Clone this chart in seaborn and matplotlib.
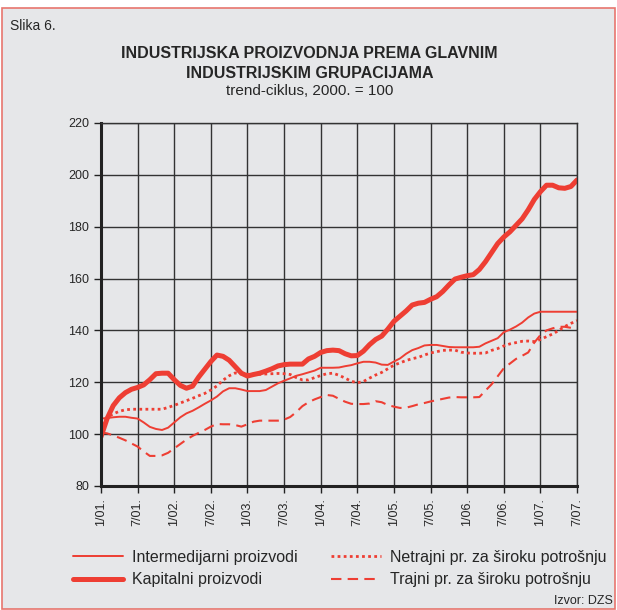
import numpy as np
import pandas as pd
import seaborn as sns
import matplotlib.pyplot as plt
from matplotlib.patches import Rectangle

# monthly trend-cycle, 1/01. .. 7/07., 2000 = 100
intermedijarni = [
    106, 106.2, 106.5, 106.7, 106.7, 106.3, 106, 104.5, 102.8, 102, 101.6, 102.5,
    104.5, 106.5, 108, 109, 110.3, 111.7, 113, 114.5, 116.5, 117.7, 117.7, 117.2,
    116.6, 116.6, 116.6, 117, 118.3, 119.6, 120.6, 121.5, 122.5, 123.1, 123.8, 124.5,
    125.6, 125.6, 125.6, 125.7, 126.2, 126.6, 127.3, 127.9, 127.9, 127.6, 126.8, 126.7,
    128, 129.2, 131, 132.4, 133.2, 134.2, 134.4, 134.4, 134, 133.6, 133.5, 133.5,
    133.5, 133.5, 133.7, 135, 136, 137, 139.3, 140.3, 141.5, 143, 145, 146.5,
    147.2, 147.2, 147.2, 147.2, 147.2, 147.2, 147.2,
]
kapitalni = [
    99, 106, 111, 114, 116, 117.3, 118, 119, 121, 123.3, 123.5, 123.5,
    121, 118.8, 117.7, 118.5, 122, 125, 128, 130.5, 130, 128.5, 126, 123.5,
    122.4, 123, 123.5, 124.3, 125.2, 126.3, 126.8, 127, 127, 127, 129, 130,
    131.5, 132.2, 132.4, 132.2, 131, 130.2, 130.3, 132, 134.5, 136.5, 137.8, 140.5,
    143.5, 145.5, 147.5, 149.8, 150.5, 150.8, 152, 153, 155, 157.5, 159.8, 160.5,
    161.1, 161.5, 163.5, 166.5, 170, 173.5, 176, 178, 180.5, 183, 186.5, 190.5,
    193.5, 196, 196, 195, 194.8, 195.5, 198,
]
netrajni = [
    104, 106.5, 107.8, 108.8, 109.4, 109.6, 109.6, 109.6, 109.6, 109.6, 109.6, 110.3,
    111.1, 112, 112.9, 113.8, 114.8, 115.7, 117, 118.6, 120.8, 122.5, 123.6, 123.2,
    123.1, 123.1, 123.1, 123.2, 123.3, 123.4, 123.3, 123, 121.8, 120.9, 120.9, 121.8,
    122.6, 123.3, 123.5, 122.7, 121.6, 120.4, 119.8, 120.3, 121.6, 122.8, 123.8, 125.2,
    126.6, 127.5, 128.4, 129.1, 129.6, 130.5, 131.3, 131.8, 132.3, 132.4, 132.4, 131.6,
    131.3, 131.2, 131.2, 131.3, 132.3, 133, 134, 134.8, 135.3, 135.8, 135.9, 135.7,
    136.5, 137.6, 138.6, 140, 141.5, 142.7, 143.8,
]
trajni = [
    100.6, 100.3, 99.5, 98.6, 97.6, 96.4, 95.2, 93.3, 91.6, 91.6, 91.8, 92.8,
    94.5, 96.2, 97.9, 99.3, 100.5, 101.6, 102.9, 103.9, 103.8, 103.8, 103.5, 102.9,
    103.8, 104.8, 105.2, 105.2, 105.2, 105.2, 105.6, 106.6, 108.5, 110.8, 112.3, 113.4,
    114.3, 115.1, 114.8, 113.6, 112.5, 111.7, 111.6, 111.6, 111.8, 112.7, 112.3, 111.2,
    110.6, 110.1, 110.2, 110.8, 111.5, 112, 112.6, 113.1, 113.6, 114.1, 114.3, 114.2,
    114.2, 114.2, 114.3, 116.8, 119.2, 122.3, 125.4, 127.2, 129, 130.2, 131.5, 135.3,
    138.2, 140, 140.8, 141.4, 141.4, 141, 140.4,
]
tick_labels = ["1/01.", "7/01.", "1/02.", "7/02.", "1/03.", "7/03.", "1/04.",
               "7/04.", "1/05.", "7/05.", "1/06.", "7/06.", "1/07.", "7/07."]

RED = "#ee3e33"
BG = "#e6e7e9"

sns.set_style("white")
plt.rcParams['font.family'] = ['Liberation Sans', 'DejaVu Sans']

months = np.arange(len(kapitalni))
df = pd.DataFrame({
    "mjesec": months,
    "Intermedijarni proizvodi": intermedijarni,
    "Kapitalni proizvodi": kapitalni,
    "Netrajni pr. za široku potrošnju": netrajni,
    "Trajni pr. za široku potrošnju": trajni,
})

fig = plt.figure(figsize=(6.17, 6.10), dpi=100, facecolor="white")
fig.patches.append(Rectangle((0.004, 0.002), 0.993, 0.985, transform=fig.transFigure,
                             facecolor=BG, edgecolor="#e8766e", lw=1.2, zorder=-10))
ax = fig.add_axes([0.1637, 0.2033, 0.7715, 0.5951])
ax.set_facecolor(BG)

sns.lineplot(data=df, x="mjesec", y="Intermedijarni proizvodi", ax=ax, color=RED,
             lw=1.4, label="Intermedijarni proizvodi")
sns.lineplot(data=df, x="mjesec", y="Kapitalni proizvodi", ax=ax, color=RED,
             lw=3.6, label="Kapitalni proizvodi")
sns.lineplot(data=df, x="mjesec", y="Netrajni pr. za široku potrošnju", ax=ax, color=RED,
             lw=2.0, linestyle=(0, (1, 1.2)), label="Netrajni pr. za široku potrošnju")
sns.lineplot(data=df, x="mjesec", y="Trajni pr. za široku potrošnju", ax=ax, color=RED,
             lw=1.5, linestyle=(0, (5, 3)), label="Trajni pr. za široku potrošnju")

ax.set_xlim(0, 78)
ax.set_ylim(80, 220)
ax.set_xticks(np.arange(0, 79, 6))
ax.set_xticklabels(tick_labels, rotation=90, fontsize=9)
ax.set_yticks(np.arange(80, 221, 20))
ax.tick_params(axis="y", labelsize=9, length=5, width=1, color="#222222", direction="out", left=True)
ax.tick_params(axis="x", length=5, width=1, color="#222222", direction="out", bottom=True)
ax.set_xlabel("")
ax.set_ylabel("")
ax.grid(True, color="#333333", lw=1)
ax.set_axisbelow(True)
for side in ["top", "right"]:
    ax.spines[side].set_color("#333333")
    ax.spines[side].set_linewidth(1)
for side in ["left", "bottom"]:
    ax.spines[side].set_color("#222222")
    ax.spines[side].set_linewidth(2.2)

handles, labels = ax.get_legend_handles_labels()
ax.get_legend().remove()
fig.legend(handles, labels, ncol=2, frameon=False, fontsize=11.5,
           loc="center left", bbox_to_anchor=(0.095, 0.068), handlelength=3.1,
           handletextpad=0.6, columnspacing=2.1, labelspacing=0.45)

fig.text(0.016, 0.957, "Slika 6.", fontsize=10, va="center")
fig.text(0.502, 0.912, "INDUSTRIJSKA PROIZVODNJA PREMA GLAVNIM", fontsize=11.5,
         fontweight="bold", ha="center", va="center")
fig.text(0.502, 0.880, "INDUSTRIJSKIM GRUPACIJAMA", fontsize=11.5,
         fontweight="bold", ha="center", va="center")
fig.text(0.502, 0.851, "trend-ciklus, 2000. = 100", fontsize=11,
         ha="center", va="center")
fig.text(0.993, 0.015, "Izvor: DZS", fontsize=9, ha="right", va="center")

plt.savefig("out.png", dpi=100, facecolor=fig.get_facecolor())
